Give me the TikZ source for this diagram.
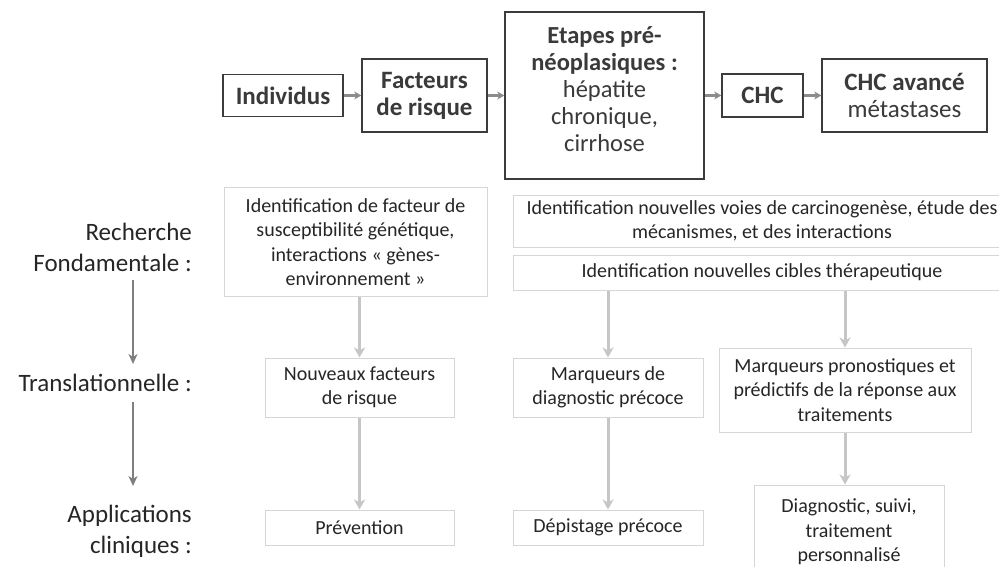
\documentclass[tikz,border=0pt]{standalone}
\usepackage{fontspec}
\setmainfont{Carlito}
\usetikzlibrary{arrows.meta}
\definecolor{topline}{HTML}{3C3C3C}
\definecolor{toptext}{HTML}{3A3A3A}
\definecolor{boxline}{HTML}{D6D6D6}
\definecolor{bodytext}{HTML}{262626}
\definecolor{toparrow}{HTML}{8C8C8C}
\definecolor{leftarrow}{HTML}{7F7F7F}
\definecolor{rowarrow}{HTML}{C6C6C6}
\tikzset{
  x=1pt, y=-1pt,
  topbox/.style={draw=topline, line width=1.4pt, align=center, text=toptext, inner sep=0pt,
    font=\fontsize{25}{27}\selectfont\bfseries},
  etabox/.style={topbox, font=\fontsize{24.5}{27}\selectfont\bfseries},
  rowbox/.style={draw=boxline, line width=1pt, align=center, text=bodytext, inner sep=0pt,
    font=\fontsize{20}{24.5}\selectfont},
  sidelabel/.style={align=right, anchor=east, text=bodytext, inner sep=0pt,
    font=\fontsize{25}{31}\selectfont},
  toparr/.style={draw=toparrow, line width=2.2pt, -{Stealth[length=7pt,width=8pt,inset=2pt]}},
  leftarr/.style={draw=leftarrow, line width=2pt, -{Stealth[length=10pt,width=9pt,inset=3pt]}},
  rowarr/.style={draw=rowarrow, line width=3pt, -{Stealth[length=10pt,width=11pt,inset=3pt]}},
}
\begin{document}
\begin{tikzpicture}
\useasboundingbox (0,0) rectangle (999,567);
\clip (0,0) rectangle (999,567);
\fill[white] (0,0) rectangle (999,567);

% top row
\node[topbox, minimum width=120pt, minimum height=42pt] (ind) at (283,95.5) {Individus};
\node[topbox, minimum width=125pt, minimum height=73pt] (fac) at (424.5,95.5) {Facteurs\\de risque};
\node[etabox, minimum width=199pt, minimum height=167pt] (eta) at (604.5,95.5)
  {Etapes pré-\\néoplasiques :\\\mdseries hépatite\\\mdseries chronique,\\\mdseries cirrhose\\[-14pt]};
\node[topbox, minimum width=81pt, minimum height=43pt] (chc) at (762.5,95.5) {CHC};
\node[topbox, minimum width=165pt, minimum height=73pt] (adv) at (904.5,95.5) {CHC avancé\\\mdseries métastases};

\draw[toparr] (ind.east) -- (fac.west);
\draw[toparr] (fac.east) -- (eta.west);
\draw[toparr] (eta.east) -- (chc.west);
\draw[toparr] (chc.east) -- (adv.west);

% side labels
\node[sidelabel] (rech) at (192,247.5) {Recherche\\Fondamentale :};
\node[sidelabel] (trans) at (192,383) {Translationnelle :};
\node[sidelabel] (appl) at (192,531) {Applications\\cliniques :};
\coordinate (l1a) at (133,280);
\coordinate (l1b) at (133,364);
\coordinate (l2a) at (133,402);
\coordinate (l2b) at (133,486);
\draw[leftarr] (l1a) -- (l1b);
\draw[leftarr] (l2a) -- (l2b);

% research row
\node[rowbox, minimum width=263pt, minimum height=108pt] (boxA) at (355.5,242)
  {Identification de facteur de\\susceptibilité génétique,\\interactions « gènes-\\environnement »};
\node[rowbox, minimum width=498pt, minimum height=52pt] (boxB) at (762,221)
  {Identification nouvelles voies de carcinogenèse, étude des\\mécanismes, et des interactions};
\node[rowbox, minimum width=498pt, minimum height=35pt] (boxC) at (762,272.5)
  {Identification nouvelles cibles thérapeutique};

% translational row
\node[rowbox, minimum width=189pt, minimum height=59pt] (nouv) at (359.5,387.5)
  {Nouveaux facteurs\\de risque};
\node[rowbox, minimum width=190pt, minimum height=59pt] (mdiag) at (608,387.5)
  {Marqueurs de\\diagnostic précoce};
\node[rowbox, minimum width=252pt, minimum height=84pt] (mpron) at (845,390)
  {Marqueurs pronostiques et\\prédictifs de la réponse aux\\traitements};

% clinical row
\node[rowbox, minimum width=189pt, minimum height=35pt] (prev) at (359.5,527.5) {Prévention};
\node[rowbox, minimum width=190pt, minimum height=35pt] (depi) at (608,527.5) {Dépistage précoce};
\node[rowbox, minimum width=190pt, minimum height=94pt] (diag) at (849,532)
  {Diagnostic, suivi,\\traitement\\personnalisé};

% row arrows
\draw[rowarr] (nouv.north |- boxA.south) -- (nouv.north);
\draw[rowarr] (mdiag.north |- boxC.south) -- (mdiag.north);
\draw[rowarr] (mpron.north |- boxC.south) -- (mpron.north);
\draw[rowarr] (nouv.south) -- (prev.north);
\draw[rowarr] (mdiag.south) -- (depi.north);
\draw[rowarr] (mpron.south) -- (mpron.south |- diag.north);
\end{tikzpicture}
\end{document}
